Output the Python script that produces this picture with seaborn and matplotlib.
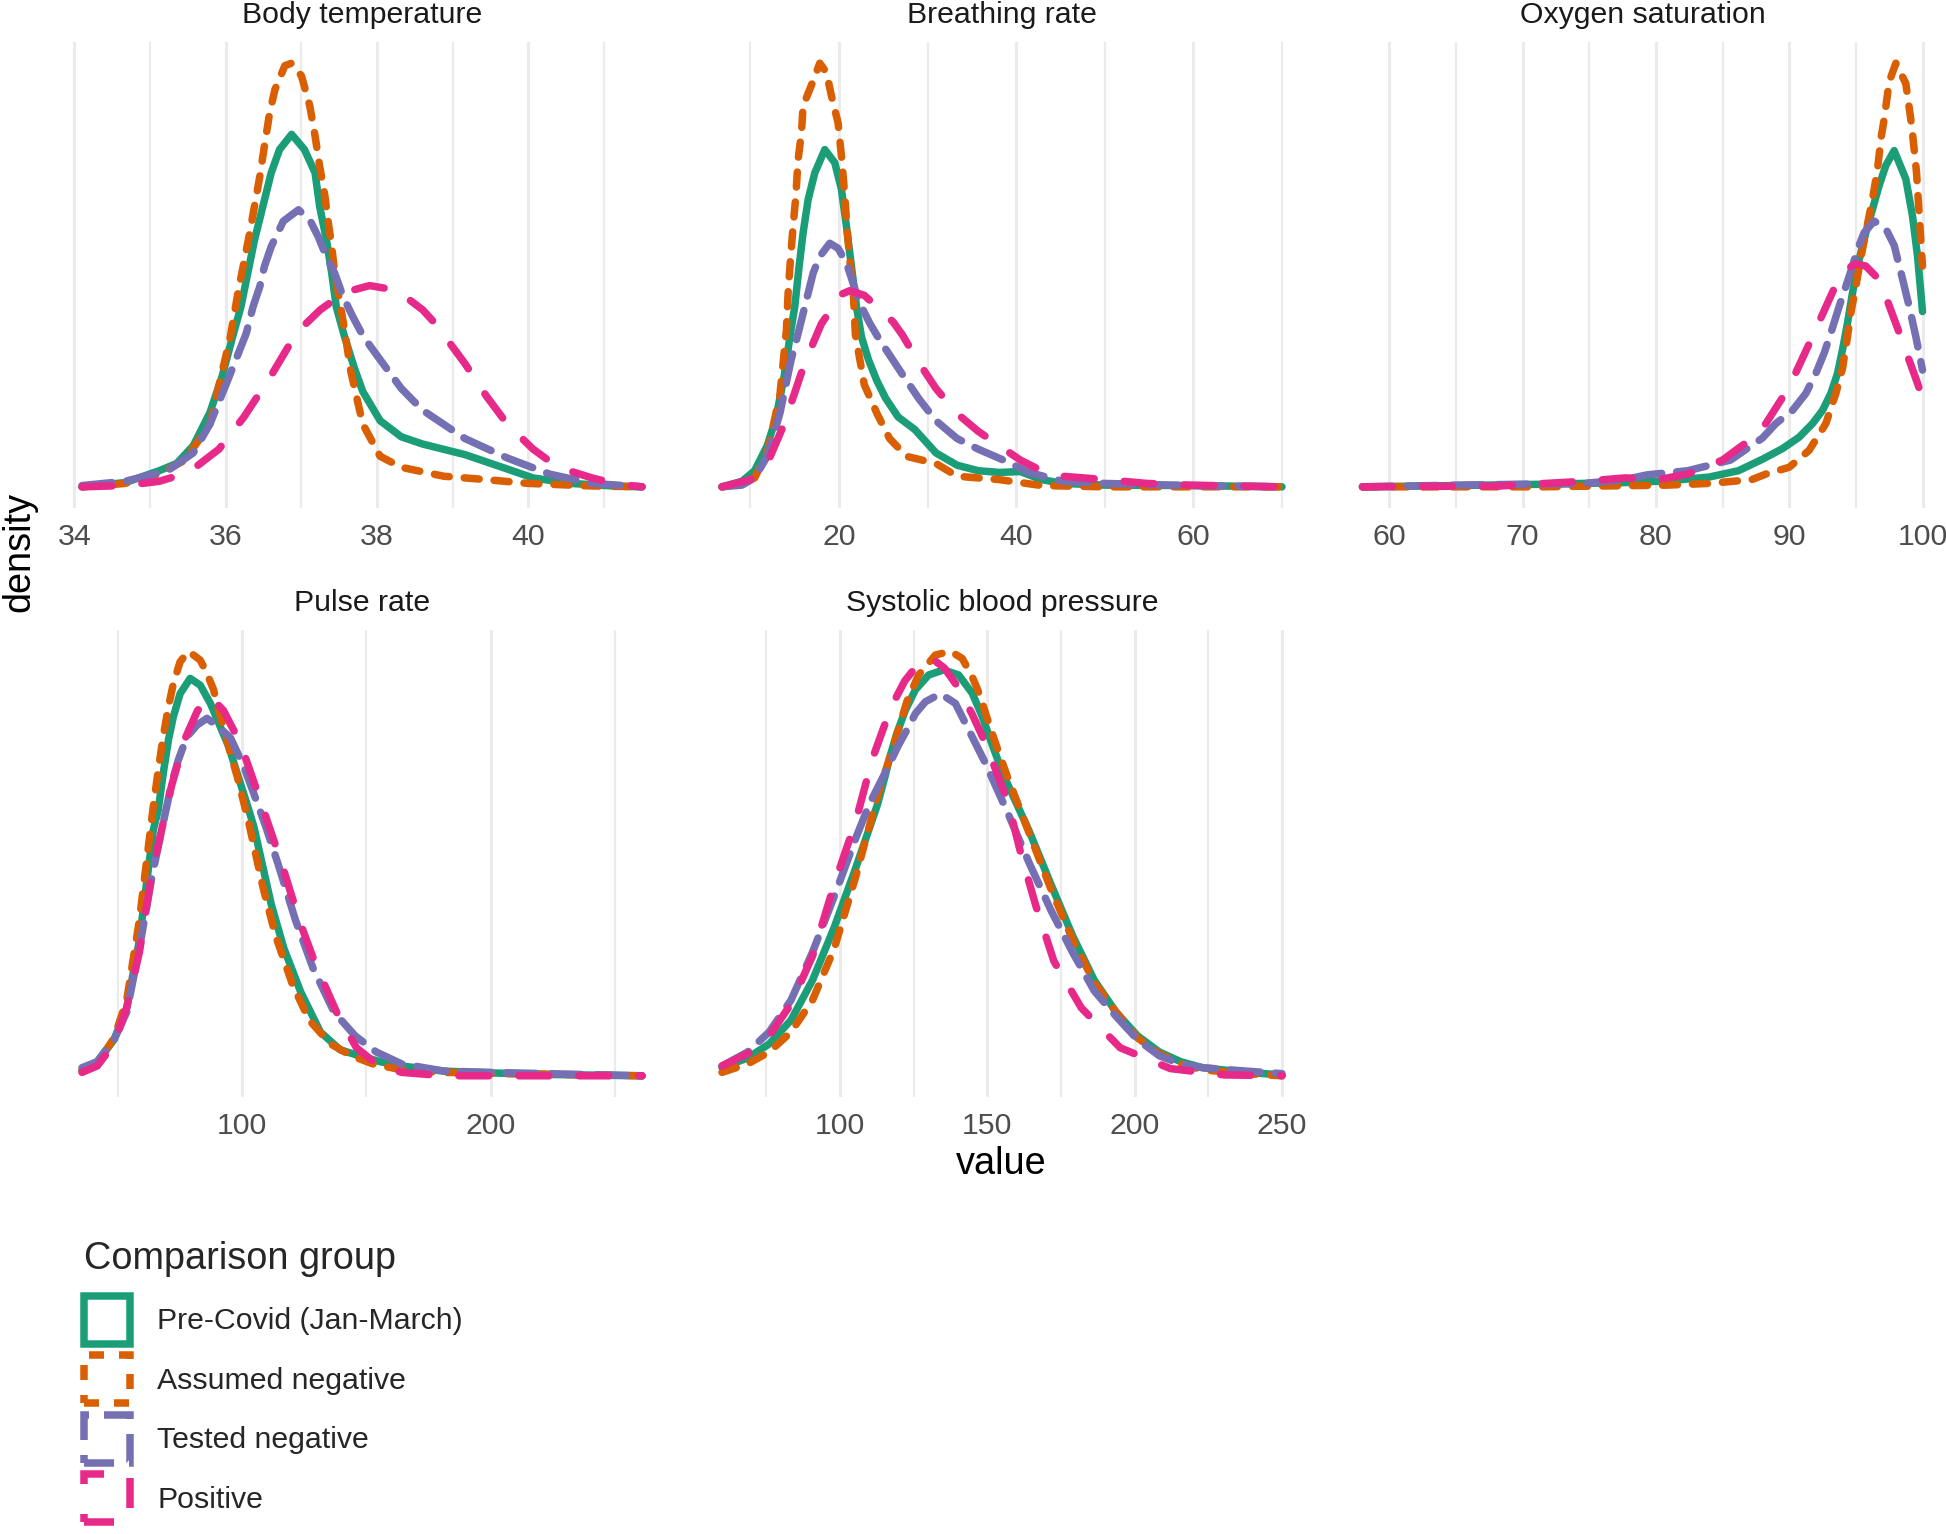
import matplotlib
matplotlib.use("Agg")
import matplotlib.pyplot as plt
from matplotlib.patches import Patch
from matplotlib.ticker import FixedLocator, NullFormatter
import pandas as pd
import seaborn as sns

# ---------------- data (density in relative units) ----------------
vitals = ["Body temperature", "Breathing rate", "Oxygen saturation",
          "Pulse rate", "Systolic blood pressure"]
groups = ["Pre-Covid (Jan-March)", "Assumed negative", "Tested negative", "Positive"]

# Body temperature
bt_pre_x = [34.1, 34.67, 35.12, 35.35, 35.57, 35.79, 35.95, 36.09, 36.2, 36.29, 36.38, 36.49, 36.6, 36.71,
            36.87, 37.04, 37.18, 37.24, 37.33, 37.4, 37.46, 37.57, 37.7, 37.81, 38.04, 38.32, 38.6, 39.16,
            39.72, 40.06, 40.56, 41.12, 41.5]
bt_pre_y = [0.0, 0.01, 0.038, 0.055, 0.097, 0.175, 0.26, 0.354, 0.425, 0.504, 0.583, 0.662, 0.741, 0.796,
            0.832, 0.796, 0.741, 0.662, 0.583, 0.504, 0.425, 0.354, 0.28, 0.225, 0.156, 0.118, 0.101, 0.076,
            0.042, 0.021, 0.008, 0.002, 0.0]
bt_asm_x = [34.1, 34.67, 35.12, 35.46, 35.79, 36.06, 36.16, 36.32, 36.45, 36.51, 36.58, 36.65, 36.78, 36.87,
            37.0, 37.11, 37.18, 37.24, 37.31, 37.35, 37.4, 37.44, 37.51, 37.57, 37.65, 37.81, 38.04, 38.32,
            38.88, 39.44, 40.0, 40.84, 41.5]
bt_asm_y = [0.0, 0.008, 0.03, 0.063, 0.148, 0.354, 0.457, 0.603, 0.733, 0.804, 0.883, 0.938, 0.994, 1.0,
            0.97, 0.899, 0.828, 0.757, 0.686, 0.63, 0.567, 0.504, 0.433, 0.37, 0.274, 0.148, 0.072, 0.046,
            0.025, 0.017, 0.008, 0.002, 0.0]
bt_tst_x = [34.1, 34.67, 35.23, 35.57, 35.79, 36.02, 36.27, 36.36, 36.45, 36.51, 36.6, 36.76, 36.96, 37.11,
            37.22, 37.33, 37.44, 37.55, 37.68, 37.82, 38.04, 38.32, 38.6, 39.16, 39.72, 40.28, 40.84, 41.5]
bt_tst_y = [0.003, 0.013, 0.038, 0.08, 0.148, 0.249, 0.362, 0.425, 0.473, 0.52, 0.567, 0.627, 0.654, 0.63,
            0.591, 0.543, 0.504, 0.449, 0.401, 0.354, 0.3, 0.232, 0.181, 0.114, 0.068, 0.03, 0.008, 0.0]
bt_pos_x = [34.1, 34.67, 35.12, 35.51, 35.91, 36.24, 36.58, 36.92, 37.04, 37.25, 37.57, 37.9, 38.26, 38.6,
            38.77, 39.16, 39.44, 39.72, 40.06, 40.39, 40.84, 41.18, 41.5]
bt_pos_y = [0.0, 0.003, 0.013, 0.034, 0.089, 0.165, 0.257, 0.359, 0.382, 0.418, 0.459, 0.475, 0.464, 0.418,
            0.385, 0.291, 0.215, 0.148, 0.089, 0.046, 0.021, 0.006, 0.0]

# Breathing rate
br_pre_x = [6.8, 9.05, 10.48, 11.9, 12.86, 13.81, 14.52, 15.01, 15.5, 15.95, 16.52, 17.27, 18.4, 19.53,
            20.28, 20.85, 21.41, 21.98, 22.54, 23.33, 24.29, 25.24, 26.67, 28.57, 30.95, 33.33, 35.71, 38.1,
            40.48, 42.86, 45.24, 50.0, 59.52, 70.0]
br_pre_y = [0.0, 0.013, 0.038, 0.097, 0.16, 0.26, 0.362, 0.425, 0.52, 0.599, 0.678, 0.741, 0.796, 0.765,
            0.702, 0.614, 0.52, 0.425, 0.354, 0.3, 0.25, 0.21, 0.165, 0.135, 0.08, 0.051, 0.038, 0.034,
            0.036, 0.017, 0.008, 0.004, 0.003, 0.0]
br_asm_x = [6.8, 9.05, 10.48, 11.9, 13.33, 14.07, 14.26, 14.52, 14.82, 15.13, 15.39, 15.77, 15.95, 17.08,
            17.835, 18.59, 19.15, 19.9, 20.28, 20.66, 20.92, 21.22, 21.6, 21.85, 22.86, 24.29, 25.71, 27.62,
            30.95, 33.33, 35.71, 38.1, 42.86, 50.0, 70.0]
br_asm_y = [0.0, 0.008, 0.021, 0.08, 0.216, 0.37, 0.457, 0.536, 0.614, 0.686, 0.773, 0.836, 0.899, 0.958,
            1.0, 0.978, 0.923, 0.859, 0.781, 0.686, 0.607, 0.536, 0.465, 0.36, 0.241, 0.173, 0.114, 0.072,
            0.055, 0.025, 0.021, 0.017, 0.003, 0.0, 0.0]
br_tst_x = [6.8, 9.05, 10.48, 11.9, 13.33, 14.6, 15.39, 15.95, 16.52, 17.08, 17.835, 18.96, 19.9, 20.85,
            21.6, 22.35, 23.48, 24.61, 27.14, 29.05, 30.95, 33.33, 35.71, 38.57, 41.43, 45.24, 50.0, 59.52,
            70.0]
br_tst_y = [0.0, 0.004, 0.021, 0.072, 0.173, 0.3, 0.362, 0.409, 0.457, 0.504, 0.544, 0.575, 0.563, 0.528,
            0.48, 0.433, 0.386, 0.346, 0.266, 0.207, 0.156, 0.114, 0.089, 0.063, 0.034, 0.013, 0.008, 0.003,
            0.0]
br_pos_x = [6.8, 10.0, 11.9, 13.81, 15.71, 17.14, 18.02, 19.0, 20.0, 21.22, 22.86, 24.3, 26.12, 27.14,
            29.05, 30.95, 33.33, 35.71, 38.1, 40.48, 42.86, 45.24, 50.0, 54.76, 59.52, 70.0]
br_pos_y = [0.0, 0.017, 0.055, 0.148, 0.266, 0.342, 0.385, 0.415, 0.452, 0.463, 0.452, 0.425, 0.389, 0.359,
            0.292, 0.232, 0.173, 0.131, 0.097, 0.063, 0.038, 0.025, 0.017, 0.008, 0.004, 0.0]

# Oxygen saturation
o2_pre_x = [58, 65.1, 71.4, 77.7, 80.9, 84.0, 86.2, 88.0, 89.5, 90.75, 91.75, 92.5, 93.125, 93.625, 94.0,
            94.375, 94.75, 95.125, 95.5, 95.875, 96.25, 96.75, 97.25, 97.875, 98.75, 99.25, 99.625, 100]
o2_pre_y = [0.0, 0.003, 0.006, 0.01, 0.014, 0.023, 0.038, 0.065, 0.09, 0.117, 0.149, 0.18, 0.22, 0.267,
            0.323, 0.386, 0.457, 0.52, 0.567, 0.614, 0.654, 0.71, 0.757, 0.792, 0.725, 0.638, 0.544, 0.413]
o2_asm_x = [58, 71.4, 80.9, 84.0, 87.2, 88.25, 90.0, 91.5, 92.75, 93.5, 94.0, 94.375, 94.625, 95.0, 95.375,
            96.25, 96.63, 96.88, 97.13, 97.5, 98.0, 98.75, 99.2, 99.55, 100]
o2_asm_y = [0.0, 0.0, 0.004, 0.008, 0.017, 0.03, 0.046, 0.086, 0.149, 0.22, 0.279, 0.354, 0.41, 0.472,
            0.54, 0.678, 0.749, 0.82, 0.867, 0.954, 0.998, 0.95, 0.848, 0.741, 0.52]
o2_tst_x = [58, 65.1, 74.6, 77.7, 79.3, 82.4, 85.6, 88.0, 89.0, 90.25, 91.25, 92.0, 92.625, 93.125, 93.75,
            94.25, 94.75, 95.125, 95.625, 96.375, 97.25, 97.875, 98.5, 99.0, 99.5, 100]
o2_tst_y = [0.0, 0.004, 0.008, 0.017, 0.028, 0.038, 0.063, 0.115, 0.149, 0.18, 0.22, 0.267, 0.315, 0.362,
            0.425, 0.472, 0.52, 0.559, 0.599, 0.626, 0.608, 0.569, 0.49, 0.425, 0.354, 0.275]
o2_pos_x = [58, 68.3, 74.6, 77.7, 80.2, 82.4, 85.0, 87.2, 88.25, 90.0, 91.75, 93.5, 94.125, 95.0, 95.75,
            96.5, 97.05, 98.125, 99.625, 100]
o2_pos_y = [0.0, 0.002, 0.013, 0.021, 0.017, 0.03, 0.063, 0.114, 0.149, 0.235, 0.354, 0.476, 0.508, 0.526,
            0.52, 0.496, 0.465, 0.374, 0.244, 0.208]

# Pulse rate
pr_pre_x = [35.5, 41.6, 48.4, 53.5, 58.6, 64.2, 66.2, 68.2, 70.3, 72.3, 75.0, 79.05, 83.1, 87.2, 91.2,
            94.6, 98.0, 101.4, 104.7, 111.7, 116.8, 123.6, 131.5, 139.5, 147.2, 155.7, 164.2, 181.3, 198.3,
            223.9, 261]
pr_pre_y = [0.014, 0.033, 0.085, 0.16, 0.319, 0.579, 0.626, 0.712, 0.791, 0.846, 0.9, 0.936, 0.92, 0.877,
            0.822, 0.775, 0.712, 0.65, 0.587, 0.404, 0.3, 0.197, 0.103, 0.061, 0.047, 0.033, 0.023, 0.011,
            0.007, 0.003, 0.0]
pr_asm_x = [35.5, 41.6, 48.4, 53.5, 58.6, 64.2, 66.2, 68.2, 70.3, 72.3, 75.0, 78.4, 83.1, 85.8, 88.5, 90.5,
            93.2, 95.3, 98.0, 100.7, 102.7, 108.5, 113.5, 120.2, 127.0, 135.6, 144.1, 152.6, 164.2, 181.3,
            206.8, 261]
pr_asm_y = [0.011, 0.028, 0.089, 0.178, 0.366, 0.634, 0.72, 0.799, 0.869, 0.924, 0.975, 1.0, 0.979, 0.948,
            0.909, 0.861, 0.806, 0.759, 0.705, 0.642, 0.595, 0.441, 0.329, 0.216, 0.131, 0.075, 0.047, 0.028,
            0.014, 0.008, 0.005, 0.0]
pr_tst_x = [35.5, 41.6, 48.4, 53.5, 58.6, 63.7, 67.6, 69.6, 71.6, 74.3, 77.7, 81.8, 85.8, 90.5, 95.3,
            100.7, 106.1, 109.5, 114.5, 121.5, 128.5, 137.0, 145.5, 154.0, 164.2, 181.3, 206.8, 261]
pr_tst_y = [0.019, 0.033, 0.085, 0.15, 0.3, 0.47, 0.579, 0.634, 0.689, 0.744, 0.798, 0.826, 0.842, 0.822,
            0.796, 0.728, 0.642, 0.587, 0.498, 0.366, 0.254, 0.15, 0.094, 0.056, 0.028, 0.011, 0.007, 0.0]
pr_pos_x = [35.5, 41.6, 48.4, 53.5, 58.6, 63.7, 71.6, 77.0, 82.0, 87.2, 92.5, 99.3, 106.8, 116.0, 123.0,
            129.5, 138.0, 146.0, 154.0, 164.2, 181.3, 261]
pr_pos_y = [0.008, 0.023, 0.075, 0.16, 0.291, 0.479, 0.684, 0.794, 0.86, 0.893, 0.86, 0.783, 0.657, 0.498,
            0.366, 0.263, 0.15, 0.066, 0.028, 0.008, 0.0, 0.0]

# Systolic blood pressure
sbp_pre_x = [60, 68.7, 76.0, 83.4, 90.7, 98.1, 105.4, 112.8, 115.3, 117.0, 119.3, 122.2, 125.6, 130.1,
             135.2, 140.3, 144.9, 148.3, 151.1, 154.0, 156.25, 164.3, 171.6, 179.0, 186.3, 193.7, 201.0,
             208.4, 215.7, 223.1, 237.8, 250]
sbp_pre_y = [0.019, 0.042, 0.075, 0.131, 0.225, 0.35, 0.49, 0.64, 0.705, 0.752, 0.806, 0.861, 0.909, 0.944,
             0.956, 0.944, 0.901, 0.846, 0.791, 0.736, 0.697, 0.575, 0.451, 0.329, 0.225, 0.15, 0.094,
             0.056, 0.033, 0.019, 0.008, 0.002]
sbp_asm_x = [60, 68.7, 76.0, 83.4, 90.7, 98.1, 105.4, 112.8, 118.8, 122.7, 126.7, 132.4, 137.5, 141.5,
             144.9, 147.7, 149.4, 151.7, 154.0, 156.8, 164.3, 171.6, 179.0, 186.3, 193.7, 201.0, 208.4,
             215.7, 223.1, 237.8, 250]
sbp_asm_y = [0.008, 0.028, 0.056, 0.103, 0.178, 0.3, 0.47, 0.66, 0.791, 0.881, 0.944, 0.991, 1.0, 0.983,
             0.94, 0.893, 0.854, 0.806, 0.759, 0.705, 0.57, 0.44, 0.32, 0.22, 0.15, 0.089, 0.052, 0.028,
             0.014, 0.005, 0.0]
sbp_tst_x = [60, 68.7, 76.0, 83.4, 90.7, 98.1, 105.4, 110.0, 115.3, 119.9, 123.3, 125.6, 129.0, 134.1,
             139.2, 142.6, 146.0, 149.4, 156.9, 164.3, 171.6, 179.0, 186.3, 193.7, 201.0, 208.4, 215.7,
             223.1, 237.8, 250]
sbp_tst_y = [0.023, 0.056, 0.103, 0.178, 0.291, 0.423, 0.56, 0.64, 0.713, 0.779, 0.822, 0.853, 0.881, 0.9,
             0.877, 0.83, 0.783, 0.736, 0.62, 0.5, 0.39, 0.29, 0.2, 0.14, 0.085, 0.047, 0.028, 0.019, 0.011,
             0.005]
sbp_pos_x = [60, 68.7, 76.0, 83.4, 90.7, 98.1, 105.4, 111.0, 117.4, 122.0, 126.7, 129.0, 131.25, 135.5,
             140.3, 145.0, 149.4, 156.9, 161.3, 166.5, 172.6, 181.9, 195.1, 212.1, 230.4, 250]
sbp_pos_y = [0.023, 0.052, 0.094, 0.169, 0.282, 0.451, 0.6, 0.746, 0.869, 0.93, 0.971, 0.979, 0.983, 0.96,
             0.913, 0.85, 0.783, 0.648, 0.526, 0.4, 0.27, 0.16, 0.066, 0.017, 0.002, 0.0]

major_ticks = {
    "Body temperature": [34, 36, 38, 40],
    "Breathing rate": [20, 40, 60],
    "Oxygen saturation": [60, 70, 80, 90, 100],
    "Pulse rate": [100, 200],
    "Systolic blood pressure": [100, 150, 200, 250],
}
minor_ticks = {
    "Body temperature": [35, 37, 39, 41],
    "Breathing rate": [10, 30, 50, 70],
    "Oxygen saturation": [65, 75, 85, 95],
    "Pulse rate": [50, 150, 250],
    "Systolic blood pressure": [75, 125, 175, 225],
}

# ---------------- build long table ----------------
series = {
    "Body temperature": [(bt_pre_x, bt_pre_y), (bt_asm_x, bt_asm_y), (bt_tst_x, bt_tst_y), (bt_pos_x, bt_pos_y)],
    "Breathing rate": [(br_pre_x, br_pre_y), (br_asm_x, br_asm_y), (br_tst_x, br_tst_y), (br_pos_x, br_pos_y)],
    "Oxygen saturation": [(o2_pre_x, o2_pre_y), (o2_asm_x, o2_asm_y), (o2_tst_x, o2_tst_y), (o2_pos_x, o2_pos_y)],
    "Pulse rate": [(pr_pre_x, pr_pre_y), (pr_asm_x, pr_asm_y), (pr_tst_x, pr_tst_y), (pr_pos_x, pr_pos_y)],
    "Systolic blood pressure": [(sbp_pre_x, sbp_pre_y), (sbp_asm_x, sbp_asm_y), (sbp_tst_x, sbp_tst_y), (sbp_pos_x, sbp_pos_y)],
}
rows = []
for v in vitals:
    for g, (xs, ys) in zip(groups, series[v]):
        for x, y in zip(xs, ys):
            rows.append({"vital": v, "group": g, "value": x, "density": y})
df = pd.DataFrame(rows)

# ---------------- style ----------------
sns.set_style("white")
plt.rcParams["font.family"] = ["Liberation Sans", "DejaVu Sans"]
plt.rcParams["lines.solid_capstyle"] = "round"
plt.rcParams["lines.dash_capstyle"] = "round"
plt.rcParams["lines.solid_joinstyle"] = "round"
plt.rcParams["lines.dash_joinstyle"] = "round"

palette = dict(zip(groups, ["#1B9E77", "#D95F02", "#7570B3", "#E7298A"]))
dashes = dict(zip(groups, ["", (2, 2), (4, 2), (4, 4)]))
LW = 5.4
SMALL = 21.8
BIG = 27.3

W, H = 1946, 1534
fig = plt.figure(figsize=(W / 100, H / 100), dpi=100)


def px_axes(left, top, width, height):
    return fig.add_axes([left / W, 1 - (top + height) / H, width / W, height / H])


PW = 616
lefts = [54, 694, 1334.5]
layout = {
    "Body temperature": (lefts[0], 42, PW, 466),
    "Breathing rate": (lefts[1], 42, PW, 466),
    "Oxygen saturation": (lefts[2], 42, PW, 466),
    "Pulse rate": (lefts[0], 630, PW, 467),
    "Systolic blood pressure": (lefts[1], 630, PW, 467),
}

for v in vitals:
    ax = px_axes(*layout[v])
    sub = df[df["vital"] == v]
    sns.lineplot(data=sub, x="value", y="density", hue="group", style="group",
                 hue_order=groups, style_order=groups, palette=palette, dashes=dashes,
                 linewidth=LW, estimator=None, sort=False, legend=False, ax=ax)
    lo, hi = sub["value"].min(), sub["value"].max()
    pad = 0.05 * (hi - lo)
    ax.set_xlim(lo - pad, hi + pad)
    ymax = sub["density"].max()
    ax.set_ylim(-0.05 * ymax, 1.05 * ymax)
    ax.xaxis.set_major_locator(FixedLocator(major_ticks[v]))
    ax.xaxis.set_minor_locator(FixedLocator(minor_ticks[v]))
    ax.xaxis.set_minor_formatter(NullFormatter())
    ax.set_yticks([])
    ax.grid(True, which="major", axis="x", color="#EBEBEB", linewidth=2.2)
    ax.grid(True, which="minor", axis="x", color="#EBEBEB", linewidth=1.6)
    ax.grid(False, axis="y")
    ax.set_axisbelow(True)
    for s in ax.spines.values():
        s.set_visible(False)
    ax.tick_params(axis="x", which="both", length=0, pad=10.5, labelsize=SMALL, labelcolor="#4D4D4D")
    ax.set_xlabel("")
    ax.set_ylabel("")
    ax.set_title(v, fontsize=SMALL, color="#1A1A1A", pad=13.5)

fig.text(1001 / W, 1 - 1164 / H, "value", ha="center", va="center", fontsize=BIG, color="black")
fig.text(19 / W, 1 - 552 / H, "density", ha="center", va="center", rotation=90, fontsize=BIG,
         color="black")

handles = []
for g in groups:
    ls = "-" if dashes[g] == "" else (0, dashes[g])
    handles.append(Patch(facecolor="none", edgecolor=palette[g], linewidth=LW, linestyle=ls,
                         capstyle="projecting", joinstyle="miter", label=g))
leg = fig.legend(handles=handles, labels=groups, loc="upper left",
                 bbox_to_anchor=(84 / W, 1 - 1241 / H), frameon=False,
                 title="Comparison group", title_fontsize=BIG, fontsize=SMALL,
                 handlelength=1.52, handleheight=2.06, labelspacing=0.383, handletextpad=0.9,
                 borderpad=0, borderaxespad=0, alignment="left")
leg._legend_box.sep = 13.5

fig.savefig("out.png", dpi=100)
